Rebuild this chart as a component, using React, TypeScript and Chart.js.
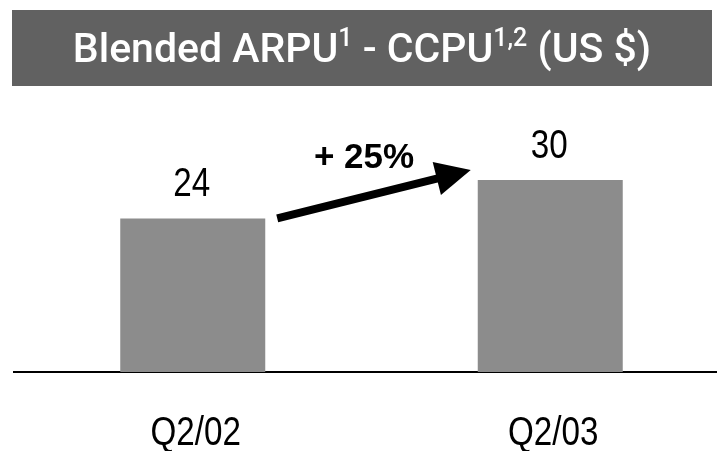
import React, { useEffect, useRef } from 'react';
import { Chart, registerables } from 'chart.js';

Chart.register(...registerables);

const categories: string[] = ['Q2/02', 'Q2/03'];
const values: number[] = [24, 30];
const titleParts: { text: string; sup: boolean }[] = [
  { text: 'Blended ARPU', sup: false },
  { text: '1', sup: true },
  { text: ' - CCPU', sup: false },
  { text: '1,2', sup: true },
  { text: ' (US $)', sup: false },
];

const SANS = "'Liberation Sans', Arial, sans-serif";
const NARROW_SCALE = 0.83;
const BAR_COLOR = '#8c8c8c';
const BANNER_COLOR = '#616161';

function narrowText(ctx: CanvasRenderingContext2D, text: string, x: number, y: number) {
  ctx.save();
  ctx.translate(x, y);
  ctx.scale(NARROW_SCALE, 1);
  ctx.textAlign = 'center';
  ctx.textBaseline = 'alphabetic';
  ctx.fillText(text, 0, 0);
  ctx.restore();
}

const bannerPlugin = {
  id: 'banner',
  beforeDraw(chart: any) {
    const ctx = chart.ctx as CanvasRenderingContext2D;
    ctx.save();
    ctx.fillStyle = '#ffffff';
    ctx.fillRect(0, 0, chart.width, chart.height);
    ctx.fillStyle = BANNER_COLOR;
    ctx.fillRect(12, 10, 700, 76);
    const mainFont = "500 41px Roboto, 'Liberation Sans', sans-serif";
    const supFont = "500 25px Roboto, 'Liberation Sans', sans-serif";
    let total = 0;
    const widths = titleParts.map((p) => {
      ctx.font = p.sup ? supFont : mainFont;
      const w = ctx.measureText(p.text).width;
      total += w;
      return w;
    });
    let x = 362 - total / 2;
    ctx.fillStyle = '#ffffff';
    ctx.textAlign = 'left';
    ctx.textBaseline = 'alphabetic';
    titleParts.forEach((p, i) => {
      ctx.font = p.sup ? supFont : mainFont;
      ctx.fillText(p.text, x, p.sup ? 46 : 62);
      x += widths[i];
    });
    ctx.restore();
  },
};

const labelsPlugin = {
  id: 'valueLabels',
  afterDatasetsDraw(chart: any) {
    const ctx = chart.ctx as CanvasRenderingContext2D;
    const meta = chart.getDatasetMeta(0);
    const data = chart.data.datasets[0].data as number[];
    ctx.save();
    ctx.fillStyle = '#000';
    ctx.font = `40px ${SANS}`;
    meta.data.forEach((el: any, i: number) => {
      narrowText(ctx, String(data[i]), el.x - 1, el.y - 22);
    });

    // category labels under the axis
    const xs = chart.scales.x;
    const labels = chart.data.labels as string[];
    labels.forEach((lab, i) => {
      narrowText(ctx, lab, xs.getPixelForValue(i) + 3, chart.chartArea.bottom + 73);
    });

    // growth arrow between the two bars
    const b1 = meta.data[0];
    const b2 = meta.data[1];
    const sx = b1.x + b1.width / 2 + 12;
    const sy = b1.y;
    const tx = b2.x - b2.width / 2 - 7;
    const ty = b2.y - 10;
    const ang = Math.atan2(ty - sy, tx - sx);
    const headLen = 35;
    const headHalf = 17;
    const bx = tx - headLen * Math.cos(ang);
    const by = ty - headLen * Math.sin(ang);
    ctx.strokeStyle = '#000';
    ctx.lineWidth = 8;
    ctx.lineCap = 'butt';
    ctx.beginPath();
    ctx.moveTo(sx, sy);
    ctx.lineTo(bx + 2 * Math.cos(ang), by + 2 * Math.sin(ang));
    ctx.stroke();
    ctx.fillStyle = '#000';
    ctx.beginPath();
    ctx.moveTo(tx, ty);
    ctx.lineTo(bx + headHalf * Math.sin(ang), by - headHalf * Math.cos(ang));
    ctx.lineTo(bx - headHalf * Math.sin(ang), by + headHalf * Math.cos(ang));
    ctx.closePath();
    ctx.fill();

    const pct = Math.round(((data[1] - data[0]) / data[0]) * 100);
    ctx.font = `bold 35px ${SANS}`;
    ctx.textAlign = 'center';
    ctx.textBaseline = 'alphabetic';
    ctx.fillText(`+ ${pct}%`, (sx + tx) / 2 - 10, (sy + ty) / 2 - 26);
    ctx.restore();
  },
};

export default function App() {
  const ref = useRef<HTMLCanvasElement | null>(null);
  useEffect(() => {
    if (!ref.current) return;
    const chart = new Chart(ref.current, {
      type: 'bar',
      data: {
        labels: categories,
        datasets: [
          {
            data: values,
            backgroundColor: BAR_COLOR,
            barPercentage: 0.4056,
            categoryPercentage: 1,
          },
        ],
      },
      options: {
        responsive: false,
        animation: false,
        layout: { padding: { left: 14, right: 0, top: 148, bottom: 0 } },
        plugins: {
          legend: { display: false },
          tooltip: { enabled: false },
          title: { display: false },
        },
        scales: {
          x: {
            grid: { display: false, drawTicks: false },
            border: { display: true, color: '#000', width: 2 },
            ticks: { display: false },
            afterFit(scale: any) {
              scale.height = 79;
            },
          },
          y: { display: false, min: 0, max: 35 },
        },
      },
      plugins: [bannerPlugin, labelsPlugin],
    });
    return () => chart.destroy();
  }, []);
  return (
    <div
      style={{
        position: 'absolute',
        left: 0,
        top: 0,
        width: 717,
        height: 451,
        overflow: 'hidden',
        background: '#fff',
      }}
    >
      <canvas ref={ref} width={729} height={451} style={{ display: 'block' }} />
    </div>
  );
}
